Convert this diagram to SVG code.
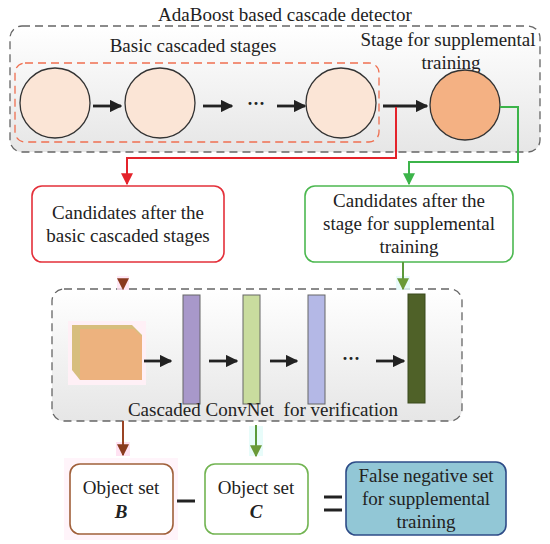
<svg xmlns="http://www.w3.org/2000/svg" width="550" height="544" viewBox="0 0 550 544" font-family="'Liberation Serif', 'Times New Roman', serif">
<style>
text{font-family:'Liberation Serif','Times New Roman',serif;font-size:19px;fill:#222;text-anchor:middle}
.stage{fill:#FBE5D6;stroke:#333;stroke-width:1.3}
.blk{stroke:#222;stroke-width:2.8;fill:none}
.bar{stroke:#666;stroke-width:1}
.dots{font-size:18px;font-weight:bold}
</style>
<defs>
<linearGradient id="gbg" x1="0" y1="0" x2="0" y2="1">
<stop offset="0" stop-color="#ffffff"/>
<stop offset="1" stop-color="#e6e6e6"/>
</linearGradient>
<linearGradient id="gbr" x1="0" y1="0" x2="0" y2="1">
<stop offset="0" stop-color="#D8262A"/>
<stop offset="1" stop-color="#8A4A1E"/>
</linearGradient>
<marker id="ah" viewBox="0 0 10 10" refX="9" refY="5" markerWidth="4.5" markerHeight="4.5" orient="auto" markerUnits="strokeWidth">
<path d="M0,0 L10,5 L0,10 Z" fill="#222"/>
</marker>
<marker id="ahr" viewBox="0 0 10 10" refX="9" refY="5" markerWidth="6" markerHeight="6" orient="auto" markerUnits="strokeWidth">
<path d="M0,0 L10,5 L0,10 Z" fill="#E4232B"/>
</marker>
<marker id="ahg" viewBox="0 0 10 10" refX="9" refY="5" markerWidth="6" markerHeight="6" orient="auto" markerUnits="strokeWidth">
<path d="M0,0 L10,5 L0,10 Z" fill="#3CB44A"/>
</marker>
<marker id="ahb" viewBox="0 0 10 10" refX="9" refY="5" markerWidth="6" markerHeight="6" orient="auto" markerUnits="strokeWidth">
<path d="M0,0 L10,5 L0,10 Z" fill="#8A3A1E"/>
</marker>
<marker id="aho" viewBox="0 0 10 10" refX="9" refY="5" markerWidth="6" markerHeight="6" orient="auto" markerUnits="strokeWidth">
<path d="M0,0 L10,5 L0,10 Z" fill="#6A9A38"/>
</marker>
</defs>

<g id="adaboost-detector">
<rect x="10" y="26" width="530" height="126" rx="12" fill="url(#gbg)" stroke="#666" stroke-width="1.3" stroke-dasharray="8,5"/>
<text x="285" y="21">AdaBoost based cascade detector</text>
</g>

<g id="basic-stages">
<rect x="15" y="63" width="364" height="79" rx="10" fill="none" stroke="#EF6F50" stroke-width="1.3" stroke-dasharray="8,5"/>
<text x="193" y="52">Basic cascaded stages</text>
<circle class="stage" cx="55" cy="103" r="35"/>
<circle class="stage" cx="160" cy="103" r="35"/>
<circle class="stage" cx="341" cy="103" r="35"/>
<path class="blk" d="M93,106 H121" marker-end="url(#ah)"/>
<path class="blk" d="M203,106 H232" marker-end="url(#ah)"/>
<text class="dots" x="256" y="110">···</text>
<path class="blk" d="M277,106 H305" marker-end="url(#ah)"/>
</g>

<g id="supplemental-stage">
<text x="448" y="46">Stage for supplemental</text>
<text x="451" y="69">training</text>
<circle cx="465" cy="105" r="35" fill="#F4B183" stroke="#333" stroke-width="1.3"/>
</g>

<g id="candidates-basic">
<rect x="32" y="186" width="192" height="76" rx="10" fill="#fff" stroke="#E4303A" stroke-width="1.6"/>
<text x="128" y="219">Candidates after the</text>
<text x="128" y="242">basic cascaded stages</text>
</g>

<g id="candidates-supplemental">
<rect x="305" y="186" width="208" height="76" rx="10" fill="#fff" stroke="#4CB850" stroke-width="1.6"/>
<text x="409" y="207">Candidates after the</text>
<text x="409" y="230">stage for supplemental</text>
<text x="409" y="253">training</text>
</g>

<g id="convnet">
<rect x="52" y="289" width="410" height="132" rx="12" fill="url(#gbg)" stroke="#666" stroke-width="1.3" stroke-dasharray="8,5"/>
<rect x="68" y="321" width="78" height="64" fill="#FFF0F6"/>
<polygon points="72,325 132,325 142,335 142,380 80,380 72,370" fill="#D7BE7E"/>
<polygon points="80,329 134,329 142,337 142,380 80,380" fill="#EDB27E"/>
<path class="blk" d="M144,361 H171" marker-end="url(#ah)"/>
<rect class="bar" x="183" y="295" width="17" height="109" fill="#A898CA"/>
<path class="blk" d="M209,361 H237" marker-end="url(#ah)"/>
<rect class="bar" x="243" y="295" width="17" height="109" fill="#C9DC9E"/>
<path class="blk" d="M270,361 H297" marker-end="url(#ah)"/>
<rect class="bar" x="308" y="295" width="17" height="109" fill="#B4B8E6"/>
<text class="dots" x="351" y="365">···</text>
<path class="blk" d="M376,361 H404" marker-end="url(#ah)"/>
<rect x="408" y="294" width="17" height="109" fill="#4F6128" stroke="#3A4A1C" stroke-width="1"/>
<text x="263" y="416" xml:space="preserve">Cascaded ConvNet  for verification</text>
</g>

<g id="object-set-b">
<rect x="64" y="458" width="114" height="82" fill="#FFF4FA"/>
<rect x="70" y="464" width="103" height="70" rx="10" fill="#fff" stroke="#A0603A" stroke-width="1.6"/>
<text x="121" y="494">Object set</text>
<text x="121" y="518" font-weight="bold" font-style="italic">B</text>
</g>

<g id="minus">
<line x1="177" y1="501" x2="195" y2="501" stroke="#222" stroke-width="3"/>
</g>

<g id="object-set-c">
<rect x="205" y="464" width="103" height="70" rx="10" fill="#fff" stroke="#72B452" stroke-width="1.6"/>
<text x="256" y="494">Object set</text>
<text x="256" y="518" font-weight="bold" font-style="italic">C</text>
</g>

<g id="equals">
<line x1="324" y1="497" x2="342" y2="497" stroke="#222" stroke-width="3"/>
<line x1="324" y1="510" x2="342" y2="510" stroke="#222" stroke-width="3"/>
</g>

<g id="false-negative-set">
<rect x="346" y="462" width="160" height="73" rx="10" fill="#92C7D6" stroke="#2E4C88" stroke-width="1.6"/>
<text x="426" y="482" fill="#1E3C3C">False negative set</text>
<text x="426" y="505" fill="#1E3C3C">for supplemental</text>
<text x="426" y="528" fill="#1E3C3C">training</text>
</g>

<g id="connectors">
<path class="blk" d="M383,106 H427" marker-end="url(#ah)"/>
<path d="M396,107 V158 H127 V184" fill="none" stroke="#E4232B" stroke-width="2" marker-end="url(#ahr)"/>
<path d="M500,107 H518 V162 H409 V184" fill="none" stroke="#3CB44A" stroke-width="2" marker-end="url(#ahg)"/>
<rect x="117" y="276" width="12" height="14" fill="#FFE2F2" opacity="0.8"/>
<path d="M123,262 V289" fill="none" stroke="url(#gbr)" stroke-width="2" marker-end="url(#ahb)"/>
<rect x="396" y="276" width="14" height="14" fill="#E4FAFA" opacity="0.8"/>
<path d="M403,262 V289" fill="none" stroke="#5C9A3C" stroke-width="2" marker-end="url(#aho)"/>
<rect x="116" y="442" width="14" height="14" fill="#FFE2F2"/>
<path d="M123,421 V455" fill="none" stroke="#9A4424" stroke-width="2" marker-end="url(#ahb)"/>
<rect x="249" y="426" width="14" height="30" fill="#E8FCFA"/>
<path d="M256,425 V456" fill="none" stroke="#5A9A3C" stroke-width="2" marker-end="url(#aho)"/>
</g>
</svg>
